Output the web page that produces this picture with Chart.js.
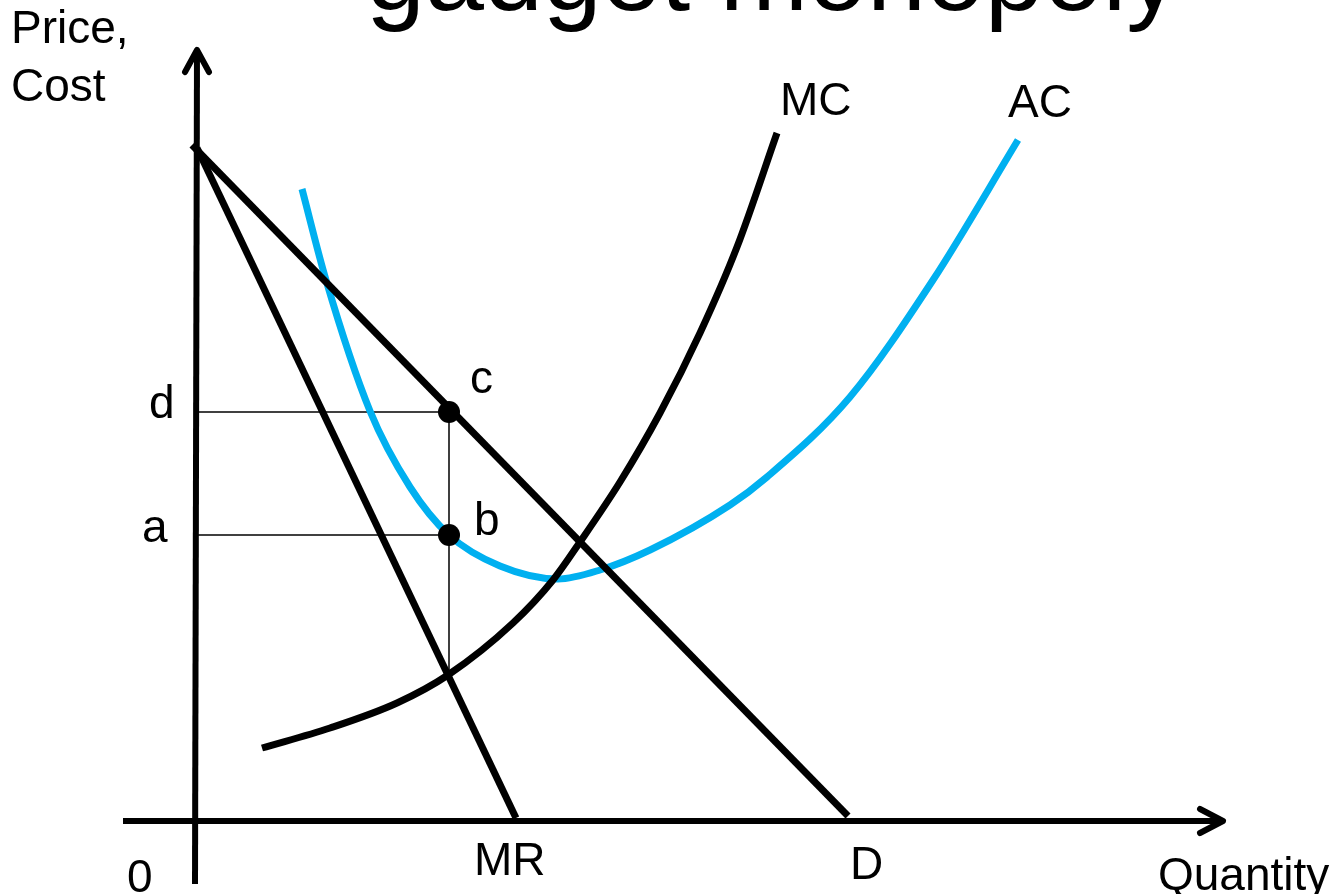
<!DOCTYPE html>
<html>
<head>
<meta charset="utf-8">
<title>gadget monopoly</title>
<script src="https://cdn.jsdelivr.net/npm/chart.js@4.4.1/dist/chart.umd.min.js"></script>
<style>
  html, body { margin: 0; padding: 0; background: #fff; }
  #wrap { position: relative; width: 1341px; height: 894px; }
</style>
</head>
<body>
<div id="wrap"><canvas id="chart"></canvas></div>
<script>
// units: quantity / price, origin where the two axes cross
const demand = [[-0.5, 67.6], [65.1, 0.5]];
const marginalRevenue = [[0, 67.3], [31.9, 0.3]];
const marginalCost = [
  [6.5, 7.3], [13.3, 9.3], [20.0, 11.8], [25.1, 14.6], [31.6, 19.8],
  [35.6, 24.1], [38.3, 27.9], [42.3, 33.9], [46.3, 40.8], [50.3, 48.8],
  [54.0, 57.4], [58.0, 68.8]
];
const averageCost = [
  [10.5, 63.2], [12.9, 54.1], [17.3, 41.0], [21.3, 33.4], [25.2, 28.6],
  [30.3, 25.5], [36.1, 24.2], [40.3, 25.1], [45.3, 27.1], [53.3, 31.6],
  [57.0, 34.4], [65.3, 42.4], [73.6, 54.1], [82.1, 68.1]
];
const qStar = 25.2;
const priceD = 40.9;   // d / c
const costA = 28.6;    // a / b
const mrMcY = 14.6;    // MR = MC
// axes and arrow heads
const yAxis = [[0, 77.1], [-0.2, -6.3]];
const yArrow = [[-1.2, 74.9], [0, 77.1], [1.2, 74.9]];
const xAxis = [[-7.4, 0], [102.6, 0]];
const xArrow = [[100.3, 1.2], [102.6, 0], [100.3, -1.2]];

const pts = arr => arr.map(p => ({ x: p[0], y: p[1] }));

function line(data, color, width, order, extra) {
  return Object.assign({
    data: pts(data),
    showLine: true,
    borderColor: color,
    borderWidth: width,
    pointRadius: 0,
    fill: false,
    order: order
  }, extra || {});
}

// labels drawn on top of the chart
const textPlugin = {
  id: "texts",
  afterDraw(chart) {
    const ctx = chart.ctx;
    ctx.save();
    ctx.fillStyle = "#000";
    ctx.textAlign = "left";
    ctx.textBaseline = "alphabetic";
    ctx.font = "106px 'Liberation Sans', Arial, sans-serif";
    ctx.fillText("gadget monopoly", 366, 10);
    ctx.font = "46px 'Liberation Sans', Arial, sans-serif";
    const labels = [
      ["Price,", 11, 43], ["Cost", 11, 101],
      ["MC", 780, 115], ["AC", 1008, 117],
      ["c", 470, 393], ["d", 149, 418],
      ["a", 142, 542], ["b", 474, 535],
      ["0", 127, 892], ["MR", 474, 875],
      ["D", 850, 879], ["Quantity", 1158, 890]
    ];
    labels.forEach(l => ctx.fillText(l[0], l[1], l[2]));
    ctx.restore();
  }
};

new Chart(document.getElementById("chart"), {
  type: "scatter",
  data: {
    datasets: [
      { data: pts([[qStar, priceD], [qStar, costA]]), pointRadius: 11, pointBackgroundColor: "#000", pointBorderWidth: 0, showLine: false, order: 0 },
      line(demand, "#000", 7, 1),
      line(marginalRevenue, "#000", 7, 1),
      line(marginalCost, "#000", 7, 1, { cubicInterpolationMode: "monotone" }),
      line(averageCost, "#00b0f0", 7, 2, { cubicInterpolationMode: "monotone" }),
      line([[0, priceD], [qStar, priceD]], "#000", 1.5, 3),
      line([[0, costA], [qStar, costA]], "#000", 1.5, 3),
      line([[qStar, priceD], [qStar, mrMcY]], "#000", 1.5, 3),
      line(yAxis, "#000", 6, 4),
      line(yArrow, "#000", 6, 4, { borderCapStyle: "round", borderJoinStyle: "round" }),
      line(xAxis, "#000", 6, 4),
      line(xArrow, "#000", 6, 4, { borderCapStyle: "round", borderJoinStyle: "round" })
    ]
  },
  options: {
    responsive: true,
    maintainAspectRatio: false,
    animation: false,
    layout: { padding: 0, autoPadding: false },
    plugins: {
      legend: { display: false },
      tooltip: { enabled: false }
    },
    scales: {
      x: { type: "linear", min: -19.7, max: 114.4, display: false },
      y: { type: "linear", min: -7.3, max: 82.1, display: false }
    }
  },
  plugins: [textPlugin]
});
</script>
</body>
</html>
